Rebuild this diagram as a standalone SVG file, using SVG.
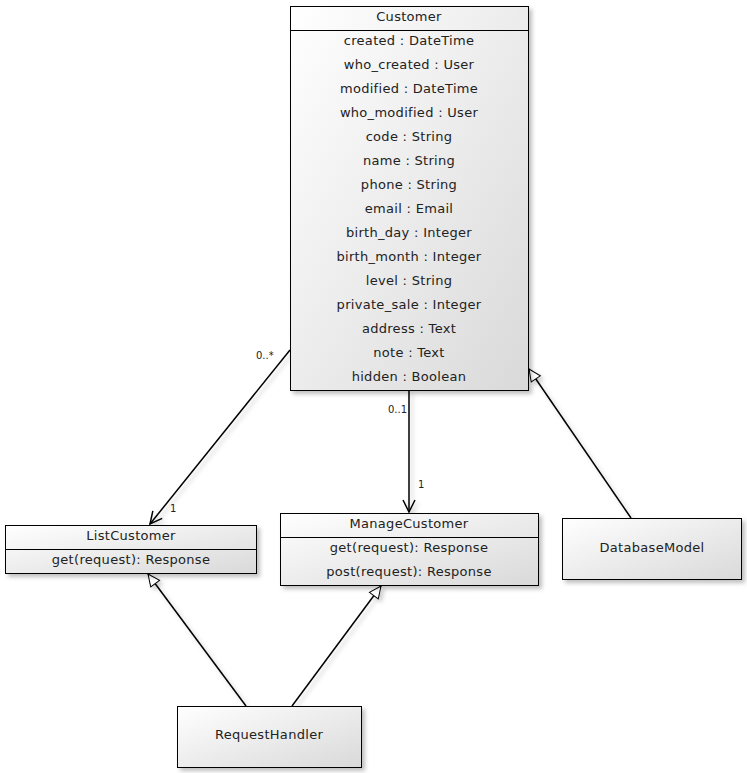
<svg xmlns="http://www.w3.org/2000/svg" width="747" height="773" viewBox="0 0 747 773">
<defs>
<linearGradient id="g" x1="0" y1="0" x2="1" y2="1">
<stop offset="0" stop-color="#ffffff"/>
<stop offset="1" stop-color="#d9d9d9"/>
</linearGradient>
<filter id="sh" x="-10%" y="-10%" width="130%" height="130%">
<feDropShadow dx="3" dy="3" stdDeviation="2" flood-color="#000" flood-opacity="0.25"/>
</filter>
<filter id="lsh" filterUnits="userSpaceOnUse" x="0" y="0" width="747" height="773">
<feDropShadow dx="3" dy="3" stdDeviation="2" flood-color="#000" flood-opacity="0.2"/>
</filter>
<marker id="open" viewBox="0 0 14 14" refX="13" refY="7" markerWidth="14" markerHeight="14" markerUnits="userSpaceOnUse" orient="auto">
<path d="M1,1 L13,7 L1,13" fill="none" stroke="#000" stroke-width="1.5"/>
</marker>
<marker id="tri" viewBox="0 0 14 14" refX="13" refY="7" markerWidth="14" markerHeight="14" markerUnits="userSpaceOnUse" orient="auto">
<path d="M1,1.5 L13,7 L1,12.5 Z" fill="#fff" stroke="#000" stroke-width="1"/>
</marker>
</defs>
<style>
.box{fill:url(#g);stroke:#000;stroke-width:1;filter:url(#sh)}
.sep{stroke:#000;stroke-width:1}
text{font-family:"DejaVu Sans",Verdana,sans-serif;font-size:13px;letter-spacing:0.3px;fill:#222;text-anchor:middle}
.lbl{font-size:10px;letter-spacing:0;text-anchor:start}
.con{stroke:#000;stroke-width:1.5;fill:none;filter:url(#lsh)}
</style>
<g id="connectors">
<line class="con" x1="290" y1="350" x2="150" y2="524" marker-end="url(#open)"/>
<line class="con" x1="409" y1="390" x2="409" y2="512" marker-end="url(#open)"/>
<line class="con" x1="631" y1="518" x2="529" y2="369" marker-end="url(#tri)"/>
<line class="con" x1="246" y1="706" x2="148" y2="574" marker-end="url(#tri)"/>
<line class="con" x1="292" y1="706" x2="381" y2="586" marker-end="url(#tri)"/>
<text class="lbl" x="256" y="359">0..*</text>
<text class="lbl" x="170" y="512">1</text>
<text class="lbl" x="388" y="413">0..1</text>
<text class="lbl" x="418" y="488">1</text>
</g>
<g id="Customer">
<rect class="box" x="290.5" y="6.5" width="238" height="384"/>
<line class="sep" x1="290.5" y1="30.5" x2="528.5" y2="30.5"/>
<text x="409" y="21">Customer</text>
<text x="409" y="45">created : DateTime</text>
<text x="409" y="69">who_created : User</text>
<text x="409" y="93">modified : DateTime</text>
<text x="409" y="117">who_modified : User</text>
<text x="409" y="141">code : String</text>
<text x="409" y="165">name : String</text>
<text x="409" y="189">phone : String</text>
<text x="409" y="213">email : Email</text>
<text x="409" y="237">birth_day : Integer</text>
<text x="409" y="261">birth_month : Integer</text>
<text x="409" y="285">level : String</text>
<text x="409" y="309">private_sale : Integer</text>
<text x="409" y="333">address : Text</text>
<text x="409" y="357">note : Text</text>
<text x="409" y="381">hidden : Boolean</text>
</g>
<g id="ListCustomer">
<rect class="box" x="5.5" y="525.5" width="251" height="48"/>
<line class="sep" x1="5.5" y1="549.5" x2="256.5" y2="549.5"/>
<text x="131" y="540">ListCustomer</text>
<text x="131" y="564">get(request): Response</text>
</g>
<g id="ManageCustomer">
<rect class="box" x="280.5" y="513.5" width="258" height="72"/>
<line class="sep" x1="280.5" y1="537.5" x2="538.5" y2="537.5"/>
<text x="409" y="528">ManageCustomer</text>
<text x="409" y="552">get(request): Response</text>
<text x="409" y="576">post(request): Response</text>
</g>
<g id="DatabaseModel">
<rect class="box" x="562.5" y="518.5" width="179" height="61"/>
<text x="652" y="552">DatabaseModel</text>
</g>
<g id="RequestHandler">
<rect class="box" x="177.5" y="706.5" width="184" height="61"/>
<text x="269" y="739">RequestHandler</text>
</g>
</svg>
